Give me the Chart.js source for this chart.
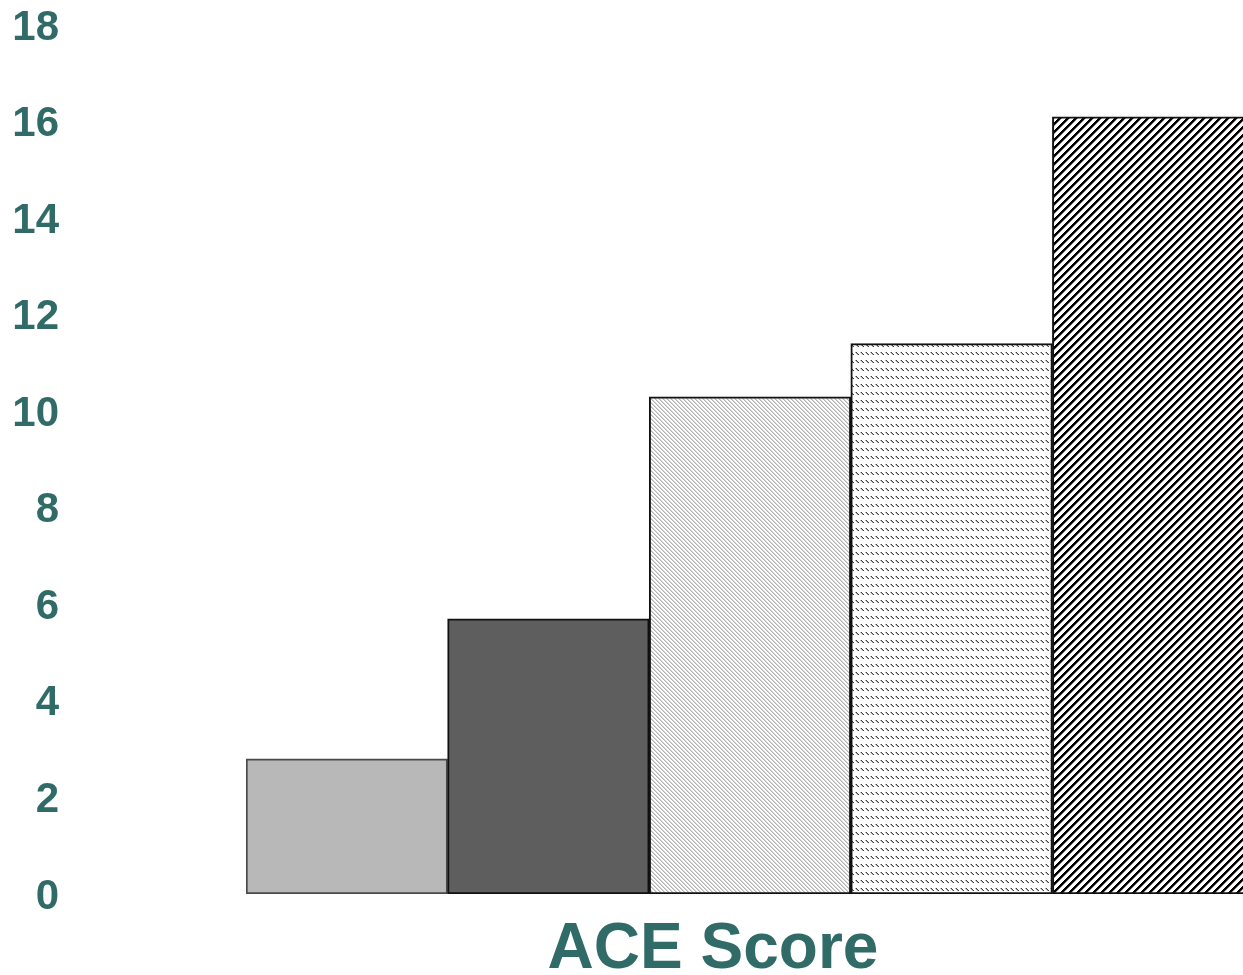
<!DOCTYPE html>
<html>
<head>
<meta charset="utf-8">
<title>ACE Score</title>
<script src="https://cdn.jsdelivr.net/npm/chart.js@4/dist/chart.umd.min.js"></script>
<style>
  html, body { margin: 0; padding: 0; background: #ffffff; overflow: hidden; }
  #wrap { width: 1256px; height: 975px; }
  canvas { display: block; }
</style>
</head>
<body>
<div id="wrap"><canvas id="chart" width="1256" height="975"></canvas></div>
<script>
// ACE score groups and the percentage in each group
const aceGroups = ['0', '1', '2', '3', '4+'];
const groupValues = [2.8, 5.7, 10.3, 11.4, 16.1];
const yTickValues = [0, 2, 4, 6, 8, 10, 12, 14, 16, 18];

const TEAL = '#306b68';
const FONT = '"Liberation Sans", Arial, sans-serif';

// Small tiles that become repeating canvas fill patterns
function makeTile(w, h, painter) {
  const c = document.createElement('canvas');
  c.width = w; c.height = h;
  const g = c.getContext('2d');
  g.fillStyle = '#ffffff';
  g.fillRect(0, 0, w, h);
  for (let y = 0; y < h; y++) {
    for (let x = 0; x < w; x++) {
      const col = painter(x, y);
      if (col) { g.fillStyle = col; g.fillRect(x, y, 1, 1); }
    }
  }
  return g.createPattern(c, 'repeat');
}

const ctx = document.getElementById('chart').getContext('2d');

// light downward diagonal
const lightDown = makeTile(4, 4, (x, y) => {
  const k = ((x - y) % 4 + 4) % 4;
  return k === 0 ? '#b4b4b4' : (k === 1 ? '#d6d6d6' : null);
});
// dashed downward diagonal
const dashedDown = makeTile(5, 8, (x, y) => {
  if (y < 3 && x === y + 1) return '#404040';
  if (y < 3 && x === y) return '#b0b0b0';
  return null;
});
// wide upward diagonal
const wideUp = makeTile(8, 8, (x, y) => {
  const k = (x + y) % 8;
  if (k <= 2) return '#000000';
  if (k === 3) return '#8a8a8a';
  return null;
});

const barFills = ['#b8b8b8', '#5e5e5e', lightDown, dashedDown, wideUp];
const barBorders = ['#4a4a4a', '#111111', '#111111', '#111111', '#111111'];

const axisTitle = {
  id: 'axisTitle',
  afterDraw(chart) {
    const g = chart.ctx;
    g.save();
    g.font = 'bold 64px ' + FONT;
    g.fillStyle = TEAL;
    g.textAlign = 'center';
    g.textBaseline = 'alphabetic';
    g.fillText('ACE Score', 713, 968);
    g.restore();
  }
};

new Chart(ctx, {
  type: 'bar',
  data: {
    labels: aceGroups,
    datasets: [{
      data: groupValues,
      backgroundColor: barFills,
      borderColor: barBorders,
      borderWidth: 2,
      borderSkipped: false,
      categoryPercentage: 1.0,
      barPercentage: 1.0
    }]
  },
  options: {
    responsive: false,
    animation: false,
    devicePixelRatio: 1,
    layout: { padding: { top: 25, bottom: 81, left: 0, right: 2 } },
    plugins: {
      legend: { display: false },
      tooltip: { enabled: false }
    },
    scales: {
      x: {
        display: false
      },
      y: {
        min: 0,
        max: 18,
        afterBuildTicks(scale) {
          scale.ticks = yTickValues.map(v => ({ value: v }));
        },
        afterFit(scale) {
          // wide gutter between the labels and the bars; keep vertical extent from layout padding
          scale.width = 246;
          scale.paddingTop = 0;
          scale.paddingBottom = 0;
        },
        grid: { display: false, drawTicks: false },
        border: { display: false },
        ticks: {
          padding: 187,
          labelOffset: 3,
          color: TEAL,
          font: { family: FONT, size: 42, weight: 'bold', lineHeight: 1 }
        }
      }
    }
  },
  plugins: [axisTitle]
});
</script>
</body>
</html>
